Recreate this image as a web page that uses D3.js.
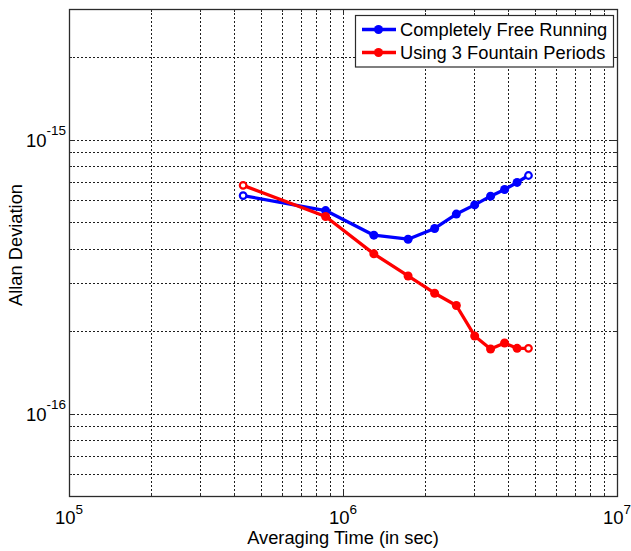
<!DOCTYPE html>
<html>
<head>
<meta charset="utf-8">
<script src="https://cdn.jsdelivr.net/npm/d3@7/dist/d3.min.js"></script>
<style>
  html, body { margin: 0; padding: 0; background: #fff; }
  svg { display: block; font-family: "Liberation Sans", Arial, sans-serif; }
</style>
</head>
<body>
<div id="chart"></div>
<script>
(function () {
  'use strict';

  // averaging times (s)
  var TAU = [432000, 864000, 1296000, 1728000, 2160000, 2592000, 3024000, 3456000, 3888000, 4320000, 4752000];
  var FREE_RUNNING = [6.25e-16, 5.51e-16, 4.48e-16, 4.33e-16, 4.74e-16, 5.35e-16, 5.78e-16, 6.22e-16, 6.58e-16, 6.98e-16, 7.40e-16];
  var FOUNTAIN = [6.81e-16, 5.24e-16, 3.83e-16, 3.18e-16, 2.75e-16, 2.48e-16, 1.92e-16, 1.72e-16, 1.81e-16, 1.73e-16, 1.73e-16];
  var SERIES_NAMES = ['Completely Free Running', 'Using 3 Fountain Periods'];
  var SERIES_COLORS = ['#0000ff', '#ff0000'];
  var X_TICKS = [1e5, 1e6, 1e7];
  var Y_TICKS = [1e-16, 1e-15];
  var X_DOMAIN = [1e5, 1e7];
  var Y_DOMAIN = [5e-17, 3e-15];

  var width = 631;
  var height = 551;
  var margin = { top: 9, right: 14, bottom: 55, left: 69 };
  var iw = width - margin.left - margin.right;
  var ih = height - margin.top - margin.bottom;

  var svg = d3.select('#chart').append('svg')
    .attr('width', width)
    .attr('height', height);

  var g = svg.append('g').attr('transform', 'translate(' + margin.left + ',' + margin.top + ')');

  var x = d3.scaleLog().domain(X_DOMAIN).range([0, iw]);
  var y = d3.scaleLog().domain(Y_DOMAIN).range([ih, 0]);

  // dotted grid (major + minor, matlab style)
  var gridColor = '#1e1e1e';
  var xGrid = x.ticks().filter(function (v) { return v > X_DOMAIN[0] * 1.001 && v < X_DOMAIN[1] * 0.999; });
  var yGrid = y.ticks().filter(function (v) { return v > Y_DOMAIN[0] * 1.001 && v < Y_DOMAIN[1] * 0.999; });

  g.append('g').selectAll('line').data(xGrid).enter().append('line')
    .attr('x1', function (d) { return Math.round(x(d)) + 0.5; })
    .attr('x2', function (d) { return Math.round(x(d)) + 0.5; })
    .attr('y1', 0).attr('y2', ih)
    .attr('stroke', gridColor).attr('stroke-width', 1)
    .attr('stroke-dasharray', '2,2');

  g.append('g').selectAll('line').data(yGrid).enter().append('line')
    .attr('y1', function (d) { return Math.round(y(d)) + 0.5; })
    .attr('y2', function (d) { return Math.round(y(d)) + 0.5; })
    .attr('x1', 0).attr('x2', iw)
    .attr('stroke', gridColor).attr('stroke-width', 1)
    .attr('stroke-dasharray', '2,2');

  // tick marks inside the box
  var tickG = g.append('g').attr('stroke', '#2b2b2b').attr('stroke-width', 1);
  xGrid.forEach(function (v) {
    var len = X_TICKS.indexOf(v) >= 0 ? 6 : 3;
    var px = Math.round(x(v)) + 0.5;
    tickG.append('line').attr('x1', px).attr('x2', px).attr('y1', ih).attr('y2', ih - len);
    tickG.append('line').attr('x1', px).attr('x2', px).attr('y1', 0).attr('y2', len);
  });
  yGrid.forEach(function (v) {
    var len = Y_TICKS.indexOf(v) >= 0 ? 6 : 3;
    var py = Math.round(y(v)) + 0.5;
    tickG.append('line').attr('y1', py).attr('y2', py).attr('x1', 0).attr('x2', len);
    tickG.append('line').attr('y1', py).attr('y2', py).attr('x1', iw).attr('x2', iw - len);
  });

  // box
  g.append('rect')
    .attr('x', 0.5).attr('y', 0.5)
    .attr('width', iw).attr('height', ih)
    .attr('fill', 'none')
    .attr('stroke', '#2b2b2b')
    .attr('stroke-width', 1.3);

  // tick labels with superscript exponents
  function expOf(v) { return Math.round(Math.log10(v)); }

  var xl = g.append('g').selectAll('text').data(X_TICKS).enter().append('text')
    .attr('x', function (d) { return x(d); })
    .attr('y', ih + 28)
    .attr('text-anchor', 'middle')
    .attr('font-size', 18.5)
    .attr('fill', '#000');
  xl.append('tspan').text('10');
  xl.append('tspan').attr('dy', -10).attr('font-size', 13.5).text(function (d) { return expOf(d); });

  var yl = g.append('g').selectAll('text').data(Y_TICKS).enter().append('text')
    .attr('x', -3)
    .attr('y', function (d) { return y(d) + 7; })
    .attr('text-anchor', 'end')
    .attr('font-size', 18.5)
    .attr('fill', '#000');
  yl.append('tspan').text('10');
  yl.append('tspan').attr('dy', -11.5).attr('font-size', 13.5).text(function (d) { return '-' + Math.abs(expOf(d)); });

  // axis titles
  svg.append('text')
    .attr('x', margin.left + iw / 2)
    .attr('y', 543.5)
    .attr('text-anchor', 'middle')
    .attr('font-size', 18.3)
    .text('Averaging Time (in sec)');

  svg.append('text')
    .attr('transform', 'translate(22,245) rotate(-90)')
    .attr('text-anchor', 'middle')
    .attr('font-size', 18.3)
    .text('Allan Deviation');

  // data
  var seriesData = [FREE_RUNNING, FOUNTAIN];
  var line = d3.line()
    .x(function (d, i) { return x(TAU[i]); })
    .y(function (d) { return y(d); });

  seriesData.forEach(function (vals, si) {
    var color = SERIES_COLORS[si];
    var sg = g.append('g');
    sg.append('path')
      .attr('d', line(vals))
      .attr('fill', 'none')
      .attr('stroke', color)
      .attr('stroke-width', 3.3)
      .attr('stroke-linejoin', 'round');
    var last = vals.length - 1;
    sg.selectAll('circle').data(vals).enter().append('circle')
      .attr('cx', function (d, i) { return x(TAU[i]); })
      .attr('cy', function (d) { return y(d); })
      .attr('r', function (d, i) { return (i === 0 || i === last) ? 3.3 : 4.5; })
      .attr('fill', function (d, i) { return (i === 0 || i === last) ? '#fff' : color; })
      .attr('stroke', color)
      .attr('stroke-width', function (d, i) { return (i === 0 || i === last) ? 2.2 : 0; });
  });

  // legend
  var lg = svg.append('g').attr('transform', 'translate(355.5,15.5)');
  lg.append('rect')
    .attr('width', 258).attr('height', 51.5)
    .attr('fill', '#fff')
    .attr('stroke', '#2b2b2b')
    .attr('stroke-width', 1.2);
  SERIES_NAMES.forEach(function (name, i) {
    var cy = 14 + i * 23;
    lg.append('line')
      .attr('x1', 6.5).attr('x2', 40.5)
      .attr('y1', cy).attr('y2', cy)
      .attr('stroke', SERIES_COLORS[i]).attr('stroke-width', 3.3);
    lg.append('circle')
      .attr('cx', 23).attr('cy', cy).attr('r', 4.5)
      .attr('fill', SERIES_COLORS[i]);
    lg.append('text')
      .attr('x', 44.5)
      .attr('y', cy + 6.5)
      .attr('font-size', 18.3)
      .text(name);
  });
})();
</script>
</body>
</html>
